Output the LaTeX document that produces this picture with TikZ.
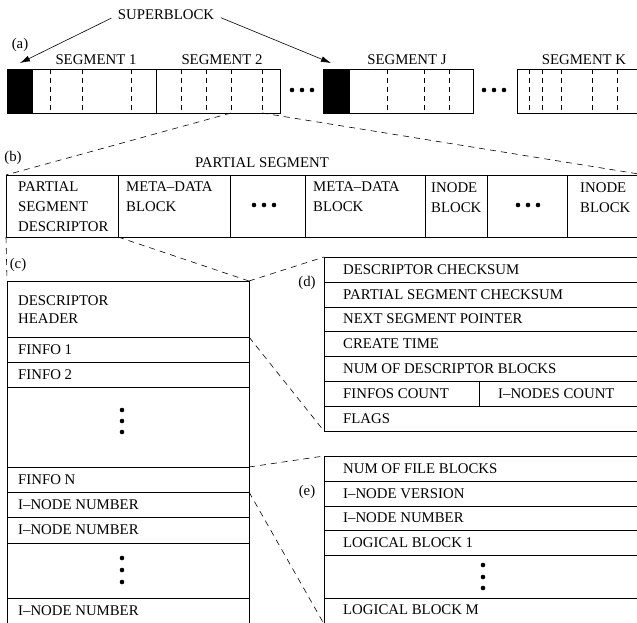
\documentclass[tikz,border=0pt]{standalone}
\usepackage{fontspec}
\setmainfont{Liberation Serif}
\usetikzlibrary{arrows.meta}

\begin{document}
\begin{tikzpicture}[x=1pt, y=-1pt,
                    box/.style={draw=black, line width=0.9pt},
                    blackbox/.style={draw=black, fill=black, line width=0.9pt},
                    split/.style={draw=black, line width=0.6pt, dash pattern=on 5pt off 4pt},
                    zoomline/.style={draw=black, line width=0.6pt, dash pattern=on 6pt off 5pt},
                    arr/.style={draw=black, line width=0.6pt, -{Latex[length=10pt, width=6pt]}},
                    txt/.style={anchor=west, inner sep=0pt, font=\fontsize{14.8}{19}\selectfont},
                    multi/.style={anchor=north west, inner sep=0pt, align=left, font=\fontsize{14.8}{20}\selectfont},
                    lbl/.style={inner sep=0pt, font=\fontsize{14.8}{19}\selectfont},
                    dot/.style={circle, fill=black, inner sep=0pt, minimum size=4.6pt}
                ]
    \clip (0,0) rectangle (637,622);

    % (a) the segments of the log
    \node[lbl] (sb) at (166,15) {SUPERBLOCK};
    \node[lbl] (la) at (20,45) {(a)};
    \coordinate (sbone) at (20,63);
    \coordinate (sbtwo) at (331,63);
    \draw[arr, shorten <=7pt] (sb.west) -- (sbone);
    \draw[arr, shorten <=7pt] (sb.east) -- (sbtwo);

    \draw[blackbox] (7,69) rectangle (32,113);
    \draw[box] (32,69) rectangle (156,113);
    \draw[box] (156,69) rectangle (280,113);
    \draw[blackbox] (323,69) rectangle (349,113);
    \draw[box] (349,69) rectangle (473,113);
    \draw[box] (517,69) rectangle (660,113);
    \foreach \x in {50,82,131,181,206,231,262,387,424,449,529,542,561,592,617}
        \draw[split] (\x,69) -- (\x,113);
    \node[lbl] (segone) at (96,60) {SEGMENT 1};
    \node[lbl] (segtwo) at (222,60) {SEGMENT 2};
    \node[lbl] (segj) at (407,60) {SEGMENT J};
    \node[lbl] (segk) at (584,60) {SEGMENT K};
    \foreach \x in {292,302,312,484,494,504}
        \node[dot] at (\x,90) {};
    \coordinate (psl) at (231,113);
    \coordinate (psr) at (262,113);

    % (b) one partial segment
    \node[lbl] (lb) at (13,158) {(b)};
    \node[lbl] (ps) at (262,163) {PARTIAL SEGMENT};
    \coordinate (btl) at (6,175);
    \coordinate (btr) at (645,175);
    \draw[box] (btl) rectangle (645,237);
    \foreach \x in {118,230,305,425,487,567}
        \draw[box] (\x,175) -- (\x,237);
    \node[multi] (psd) at (18,182) {PARTIAL\\SEGMENT\\DESCRIPTOR};
    \node[multi] (mdone) at (126,182) {META--DATA\\BLOCK};
    \node[multi] (mdtwo) at (313,182) {META--DATA\\BLOCK};
    \node[multi] (inone) at (431,182) {INODE\\BLOCK};
    \node[multi] (intwo) at (580,182) {INODE\\BLOCK};
    \foreach \x in {-10,0,10} {
        \node[dot] at (264+\x,205) {};
        \node[dot] at (528+\x,205) {};
    }
    \coordinate (bbl) at (6,237);
    \coordinate (bbr) at (118,237);
    \draw[zoomline] (psl) -- (btl);
    \draw[zoomline] (psr) -- (btr);

    % (c) the partial segment descriptor
    \node[lbl] (lc) at (18,265) {(c)};
    \coordinate (ctl) at (7,281);
    \coordinate (ctr) at (249,281);
    \draw[box] (ctl) rectangle (249,624);
    \foreach \y in {337,362,387,467,492,517,543,598}
        \draw[box] (7,\y) -- (249,\y);
    \node[txt] (dh) at (18,311) {\begin{tabular}{@{}l@{}}DESCRIPTOR\\[-1pt]HEADER\end{tabular}};
    \node[txt] (fone) at (18,350) {FINFO 1};
    \node[txt] (ftwo) at (18,375) {FINFO 2};
    \node[txt] (fn) at (18,480) {FINFO N};
    \node[txt] (inoone) at (18,505) {I--NODE NUMBER};
    \node[txt] (inotwo) at (18,530) {I--NODE NUMBER};
    \node[txt] (inolast) at (18,611) {I--NODE NUMBER};
    \foreach \y in {410,421,432,558,570,582}
        \node[dot] at (122,\y) {};
    \coordinate (dhb) at (249,337);
    \coordinate (fnt) at (249,467);
    \coordinate (fnb) at (249,492);
    \draw[zoomline] (bbl) -- (ctl);
    \draw[zoomline] (bbr) -- (ctr);

    % (d) descriptor header
    \node[lbl] (ld) at (307,283) {(d)};
    \coordinate (dtl) at (324,257);
    \coordinate (dbl) at (324,431);
    \draw[box] (dtl) rectangle (660,431);
    \foreach \y in {282,307,331,356,381,406}
        \draw[box] (324,\y) -- (660,\y);
    \draw[box] (479,381) -- (479,406);
    \node[txt] (dcs) at (343,269.5) {DESCRIPTOR CHECKSUM};
    \node[txt] (pcs) at (343,294.5) {PARTIAL SEGMENT CHECKSUM};
    \node[txt] (nsp) at (343,319) {NEXT SEGMENT POINTER};
    \node[txt] (ctm) at (343,343.5) {CREATE TIME};
    \node[txt] (ndb) at (343,368.5) {NUM OF DESCRIPTOR BLOCKS};
    \node[txt] (fic) at (343,393.5) {FINFOS COUNT};
    \node[txt] (inc) at (498,393.5) {I--NODES COUNT};
    \node[txt] (flg) at (343,418.5) {FLAGS};
    \draw[zoomline] (ctr) -- (dtl);
    \draw[zoomline] (dhb) -- (dbl);

    % (e) one finfo
    \node[lbl] (le) at (307,492) {(e)};
    \coordinate (etl) at (324,456);
    \coordinate (ebl) at (324,624);
    \draw[box] (etl) rectangle (660,624);
    \foreach \y in {481,506,530,555,598}
        \draw[box] (324,\y) -- (660,\y);
    \node[txt] (nfb) at (343,468.5) {NUM OF FILE BLOCKS};
    \node[txt] (inv) at (343,493.5) {I--NODE VERSION};
    \node[txt] (inn) at (343,518) {I--NODE NUMBER};
    \node[txt] (lbone) at (343,542.5) {LOGICAL BLOCK 1};
    \node[txt] (lbm) at (343,610) {LOGICAL BLOCK M};
    \foreach \y in {565,577,588}
        \node[dot] at (483,\y) {};
    \draw[zoomline] (fnt) -- (etl);
    \draw[zoomline] (fnb) -- (ebl);
\end{tikzpicture}
\end{document}
